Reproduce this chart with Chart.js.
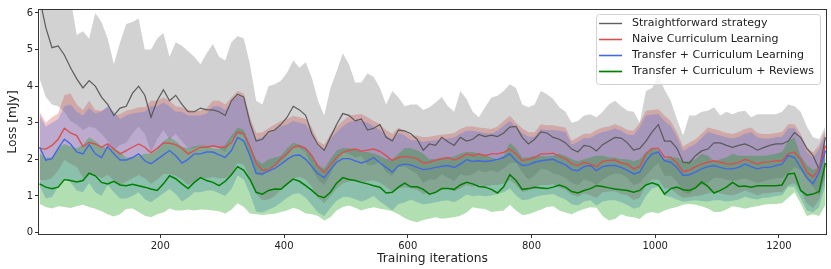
<!DOCTYPE html>
<html>
<head>
<meta charset="utf-8">
<script src="https://cdn.jsdelivr.net/npm/chart.js@4/dist/chart.umd.min.js"></script>
<style>
  html, body { margin: 0; padding: 0; background: #fff; }
</style>
</head>
<body>
<canvas id="chartCanvas" width="831" height="269"></canvas>
<script>
// iterations are sampled every 10 steps, starting at 5
const iterStart = 5;
const iterStep = 10;
const xTicks = [200, 400, 600, 800, 1000, 1200];
const yTicks = [0, 1, 2, 3, 4, 5, 6];

const seriesNames = [
  "Straightforward strategy",
  "Naive Curriculum Learning",
  "Transfer + Curriculum Learning",
  "Transfer + Curriculum + Reviews",
];

// Straightforward strategy
const straightMean = [
  6.4, 5.6, 5.05, 5.1, 4.85, 4.5, 4.2, 3.95, 4.15, 4.0,
  3.7, 3.5, 3.2, 3.4, 3.45, 3.8, 4.0, 3.75, 3.15, 3.6,
  3.9, 3.6, 3.75, 3.5, 3.3, 3.3, 3.4, 3.35, 3.35, 3.3,
  3.2, 3.6, 3.78, 3.7, 3.0, 2.5, 2.55, 2.75, 2.8, 2.95,
  3.15, 3.45, 3.35, 3.2, 2.7, 2.4, 2.25, 2.6, 2.95, 3.25,
  3.2, 3.05, 3.1, 2.8, 2.85, 2.95, 2.6, 2.5, 2.8, 2.78,
  2.7, 2.55, 2.25, 2.42, 2.38, 2.6, 2.48, 2.38, 2.6, 2.5,
  2.55, 2.68, 2.62, 2.66, 2.62, 2.72, 2.88, 2.9, 2.6, 2.42,
  2.55, 2.75, 2.72, 2.6, 2.55, 2.45, 2.28, 2.2, 2.38, 2.35,
  2.23, 2.4, 2.5, 2.6, 2.58, 2.45, 2.25, 2.3, 2.5, 2.75,
  2.95, 2.5, 2.5, 2.3, 1.92, 1.9, 2.1, 2.23, 2.28, 2.45,
  2.45, 2.38, 2.33, 2.38, 2.42, 2.35, 2.25, 2.32, 2.38, 2.42,
  2.42, 2.5, 2.73, 2.6, 2.3, 2.1, 1.72, 2.6,
];
const straightHigh = [
  6.5, 6.5, 6.5, 6.5, 6.5, 6.4, 5.4, 5.5, 5.3, 6.0,
  5.75, 5.3, 4.6, 5.2, 5.7, 5.75, 5.85, 5.0, 5.0, 5.3,
  5.45, 4.8, 5.2, 5.1, 4.95, 4.8, 4.6, 4.9, 5.15, 4.8,
  4.7, 5.2, 5.37, 5.3, 4.6, 3.6, 3.5, 4.0, 4.05, 4.15,
  4.37, 4.7, 4.5, 4.65, 4.23, 3.6, 3.2, 3.95, 4.4, 4.9,
  4.6, 4.1, 4.1, 4.35, 4.25, 3.95, 3.5, 3.87, 3.69, 3.45,
  3.5, 3.5, 3.35, 3.42, 3.55, 3.7, 3.45, 3.3, 3.87, 3.65,
  3.3, 3.15, 3.42, 3.69, 3.74, 3.87, 4.05, 3.95, 3.5, 3.42,
  3.5, 3.87, 3.78, 3.65, 3.42, 3.3, 3.0, 3.05, 3.2, 3.23,
  3.15, 3.3, 3.5, 3.6, 3.45, 3.33, 3.3, 3.0, 3.87, 3.95,
  4.3, 3.9, 3.6, 3.1, 2.65, 3.2, 3.2, 3.3, 3.33, 3.42,
  3.2, 3.3, 3.23, 3.3, 3.33, 3.15, 3.23, 3.23, 3.23, 3.23,
  3.3, 3.5, 3.45, 3.3, 2.9, 2.6, 2.55, 2.9,
];
const straightLow = [
  4.2, 3.7, 3.5, 3.45, 3.3, 3.05, 2.95, 2.8, 2.9, 2.85,
  2.7, 2.5, 2.25, 2.4, 2.45, 2.7, 2.9, 2.7, 2.2, 2.55,
  2.8, 2.55, 2.7, 2.5, 2.3, 2.3, 2.4, 2.35, 2.35, 2.3,
  2.2, 2.55, 2.7, 2.65, 2.05, 1.6, 1.55, 1.75, 1.8, 1.95,
  2.1, 2.4, 2.3, 2.2, 1.75, 1.45, 1.3, 1.6, 1.95, 2.2,
  2.15, 2.05, 2.1, 1.85, 1.85, 1.95, 1.65, 1.55, 1.8, 1.8,
  1.7, 1.6, 1.35, 1.45, 1.45, 1.6, 1.5, 1.4, 1.6, 1.55,
  1.6, 1.7, 1.65, 1.7, 1.65, 1.75, 1.9, 1.9, 1.65, 1.45,
  1.55, 1.75, 1.72, 1.62, 1.58, 1.5, 1.35, 1.3, 1.45, 1.4,
  1.3, 1.45, 1.55, 1.62, 1.6, 1.5, 1.3, 1.35, 1.55, 1.75,
  1.9, 1.55, 1.55, 1.4, 1.1, 1.05, 1.2, 1.3, 1.35, 1.5,
  1.5, 1.45, 1.4, 1.45, 1.48, 1.42, 1.35, 1.4, 1.45, 1.48,
  1.5, 1.6, 1.8, 1.7, 1.45, 1.25, 1.0, 1.6,
];

// Naive Curriculum Learning
const naiveMean = [
  2.3, 2.28, 2.38, 2.55, 2.85, 2.72, 2.65, 2.35, 2.46, 2.42,
  2.33, 2.42, 2.28, 2.15, 2.24, 2.33, 2.42, 2.33, 2.18, 2.3,
  2.45, 2.44, 2.4, 2.3, 2.15, 2.24, 2.33, 2.33, 2.37, 2.33,
  2.33, 2.45, 2.75, 2.7, 2.35, 1.9, 1.7, 1.72, 1.83, 2.02,
  2.15, 2.33, 2.37, 2.3, 2.1, 1.8, 1.64, 1.85, 2.05, 2.19,
  2.24, 2.28, 2.22, 2.25, 2.28, 2.22, 2.1, 1.97, 2.05, 2.08,
  2.06, 2.02, 1.9, 1.92, 1.98, 2.01, 2.05, 1.98, 2.05, 2.15,
  2.1, 2.15, 2.1, 2.15, 2.15, 2.19, 2.28, 2.15, 1.96, 2.0,
  2.05, 2.15, 2.15, 2.17, 2.08, 2.02, 1.88, 1.83, 1.92, 1.87,
  1.8, 1.95, 1.97, 1.98, 1.9, 1.87, 1.74, 1.8, 2.15, 2.3,
  2.3, 2.06, 2.06, 1.9, 1.67, 1.7, 1.8, 1.87, 1.92, 1.96,
  1.92, 1.88, 1.87, 1.92, 2.0, 1.94, 1.87, 1.92, 1.93, 1.96,
  1.96, 2.15, 2.2, 2.0, 1.65, 1.52, 1.75, 2.37,
];
const naiveHigh = [
  3.3, 3.0, 3.15, 3.25, 3.75, 3.8, 3.5, 3.35, 3.6, 3.35,
  3.33, 3.42, 3.2, 3.24, 3.33, 3.37, 3.42, 3.42, 3.6, 3.6,
  3.69, 3.6, 3.45, 3.42, 3.35, 3.33, 3.33, 3.4, 3.6, 3.6,
  3.5, 3.69, 3.87, 3.8, 3.15, 2.72, 2.74, 2.85, 2.95, 3.05,
  3.1, 3.19, 3.15, 3.1, 2.87, 2.5, 2.4, 2.69, 2.9, 3.05,
  3.19, 3.22, 3.24, 3.15, 3.05, 2.96, 2.8, 2.69, 2.87, 2.78,
  2.65, 2.65, 2.6, 2.62, 2.65, 2.67, 2.69, 2.72, 2.83, 2.9,
  2.9, 2.87, 2.85, 2.83, 2.9, 3.05, 3.19, 3.0, 2.85, 2.74,
  2.74, 2.96, 2.93, 2.93, 2.9, 2.87, 2.51, 2.6, 2.7, 2.7,
  2.8, 2.87, 2.9, 2.96, 2.9, 2.8, 2.78, 3.0, 3.33, 3.35,
  3.37, 3.2, 3.05, 2.75, 2.35, 2.45, 2.55, 2.7, 2.87, 2.83,
  2.78, 2.72, 2.69, 2.75, 2.83, 2.87, 2.72, 2.69, 2.69, 2.72,
  2.75, 2.96, 2.96, 2.7, 2.33, 2.19, 2.4, 2.8,
];
const naiveLow = [
  1.45, 1.42, 1.5, 1.7, 1.98, 1.88, 1.8, 1.5, 1.62, 1.57,
  1.48, 1.58, 1.43, 1.3, 1.4, 1.48, 1.57, 1.48, 1.33, 1.45,
  1.6, 1.6, 1.55, 1.45, 1.3, 1.4, 1.48, 1.48, 1.52, 1.48,
  1.48, 1.6, 1.9, 1.85, 1.5, 1.05, 0.88, 0.9, 1.0, 1.17,
  1.3, 1.48, 1.52, 1.45, 1.25, 0.95, 0.8, 1.0, 1.2, 1.34,
  1.4, 1.43, 1.37, 1.4, 1.43, 1.37, 1.25, 1.12, 1.2, 1.23,
  1.21, 1.17, 1.05, 1.07, 1.13, 1.16, 1.2, 1.13, 1.2, 1.3,
  1.25, 1.3, 1.25, 1.3, 1.3, 1.34, 1.43, 1.3, 1.11, 1.15,
  1.2, 1.3, 1.3, 1.32, 1.23, 1.17, 1.03, 0.98, 1.07, 1.02,
  0.95, 1.1, 1.12, 1.13, 1.05, 1.02, 0.89, 0.95, 1.3, 1.45,
  1.45, 1.21, 1.21, 1.05, 0.95, 0.97, 1.0, 1.02, 1.07, 1.11,
  1.07, 1.03, 1.02, 1.07, 1.15, 1.09, 1.02, 1.07, 1.08, 1.11,
  1.11, 1.3, 1.35, 1.15, 0.8, 0.67, 0.9, 1.52,
];

// Transfer + Curriculum Learning
const transferMean = [
  2.33, 1.98, 2.02, 2.3, 2.55, 2.42, 2.2, 2.15, 2.4, 2.15,
  2.05, 2.35, 2.15, 1.98, 1.98, 2.05, 2.15, 1.96, 1.88, 2.0,
  2.12, 2.24, 2.1, 1.9, 2.0, 2.15, 2.15, 2.2, 2.2, 2.12,
  2.05, 2.24, 2.6, 2.5, 2.1, 1.62, 1.6, 1.68, 1.75, 1.87,
  2.0, 2.1, 2.12, 2.0, 1.8, 1.6, 1.5, 1.72, 1.92, 2.02,
  2.02, 1.96, 1.9, 1.96, 2.05, 1.9, 1.78, 1.65, 1.83, 1.87,
  1.85, 1.78, 1.72, 1.74, 1.78, 1.81, 1.83, 1.78, 1.87, 1.99,
  1.94, 1.96, 1.94, 1.96, 2.0, 2.05, 2.15, 1.96, 1.83, 1.85,
  1.92, 1.96, 1.98, 2.0, 1.92, 1.85, 1.72, 1.69, 1.8, 1.83,
  1.69, 1.8, 1.83, 1.83, 1.78, 1.7, 1.6, 1.65, 1.95, 2.15,
  2.2, 1.96, 1.92, 1.78, 1.56, 1.58, 1.65, 1.74, 1.8, 1.83,
  1.78, 1.74, 1.74, 1.78, 1.87, 1.8, 1.74, 1.78, 1.78, 1.83,
  1.87, 2.1, 2.05, 1.78, 1.5, 1.33, 1.65, 2.24,
];
const transferHigh = [
  3.2, 2.9, 3.0, 3.1, 3.45, 3.5, 3.3, 3.2, 3.4, 3.25,
  3.3, 3.45, 3.3, 3.1, 3.2, 3.25, 3.28, 3.3, 3.45, 3.45,
  3.55, 3.45, 3.3, 3.3, 3.2, 3.2, 3.2, 3.25, 3.45, 3.45,
  3.35, 3.55, 3.75, 3.65, 3.0, 2.55, 2.6, 2.7, 2.8, 2.9,
  2.95, 3.05, 3.0, 2.95, 2.72, 2.35, 2.25, 2.55, 2.75, 2.9,
  3.02, 3.05, 3.05, 3.0, 2.9, 2.8, 2.65, 2.55, 2.72, 2.65,
  2.52, 2.52, 2.48, 2.5, 2.52, 2.55, 2.57, 2.6, 2.7, 2.78,
  2.78, 2.75, 2.72, 2.7, 2.78, 2.92, 3.05, 2.88, 2.72, 2.62,
  2.62, 2.82, 2.8, 2.8, 2.78, 2.75, 2.4, 2.48, 2.58, 2.58,
  2.68, 2.75, 2.78, 2.84, 2.78, 2.68, 2.66, 2.88, 3.2, 3.22,
  3.24, 3.05, 2.92, 2.62, 2.22, 2.33, 2.42, 2.58, 2.75, 2.7,
  2.65, 2.6, 2.57, 2.62, 2.7, 2.75, 2.6, 2.57, 2.57, 2.6,
  2.62, 2.85, 2.85, 2.58, 2.2, 2.05, 2.28, 2.7,
];
const transferLow = [
  1.28, 0.93, 0.97, 1.25, 1.5, 1.37, 1.15, 1.1, 1.35, 1.1,
  1.0, 1.3, 1.1, 0.93, 0.93, 1.0, 1.1, 0.91, 0.83, 0.95,
  1.07, 1.19, 1.05, 0.85, 0.95, 1.1, 1.1, 1.15, 1.15, 1.07,
  1.0, 1.19, 1.55, 1.45, 1.05, 0.57, 0.55, 0.63, 0.7, 0.82,
  0.95, 1.05, 1.07, 0.95, 0.75, 0.55, 0.45, 0.67, 0.87, 0.97,
  0.97, 0.91, 0.85, 0.91, 1.0, 0.85, 0.73, 0.6, 0.78, 0.82,
  0.9, 0.83, 0.77, 0.79, 0.83, 0.86, 0.88, 0.83, 0.92, 1.04,
  0.99, 1.01, 0.99, 1.01, 1.05, 1.1, 1.2, 1.01, 0.88, 0.9,
  0.97, 1.01, 1.03, 1.05, 0.97, 0.9, 0.77, 0.74, 0.85, 0.88,
  0.74, 0.85, 0.88, 0.88, 0.83, 0.75, 0.65, 0.7, 1.0, 1.2,
  1.25, 1.01, 0.97, 0.9, 0.84, 0.86, 0.88, 0.86, 0.85, 0.88,
  0.88, 0.85, 0.87, 0.9, 0.98, 0.93, 0.9, 0.95, 0.96, 1.0,
  1.02, 1.25, 1.25, 0.95, 0.6, 0.55, 0.7, 1.3,
];

// Transfer + Curriculum + Reviews
const reviewsMean = [
  1.33, 1.24, 1.2, 1.24, 1.45, 1.42, 1.38, 1.42, 1.62, 1.55,
  1.37, 1.33, 1.4, 1.3, 1.28, 1.32, 1.28, 1.24, 1.19, 1.15,
  1.33, 1.55, 1.47, 1.33, 1.2, 1.37, 1.5, 1.42, 1.37, 1.28,
  1.4, 1.58, 1.8, 1.7, 1.45, 1.1, 1.05, 1.15, 1.19, 1.18,
  1.33, 1.46, 1.4, 1.28, 1.15, 1.0, 0.95, 1.1, 1.35, 1.5,
  1.45, 1.42, 1.37, 1.33, 1.28, 1.24, 1.08, 1.1, 1.24, 1.35,
  1.25, 1.25, 1.18, 1.05, 1.1, 1.2, 1.2, 1.18, 1.3, 1.37,
  1.33, 1.26, 1.24, 1.18, 1.08, 1.25, 1.58, 1.42, 1.18, 1.2,
  1.24, 1.22, 1.2, 1.24, 1.3, 1.24, 1.12, 1.08, 1.15, 1.2,
  1.28, 1.26, 1.22, 1.19, 1.17, 1.15, 1.1, 1.15, 1.3, 1.36,
  1.3, 1.05, 1.2, 1.24, 1.17, 1.15, 1.22, 1.38, 1.26, 1.08,
  1.15, 1.24, 1.37, 1.26, 1.27, 1.24, 1.28, 1.28, 1.28, 1.28,
  1.3, 1.6, 1.62, 1.15, 1.02, 1.05, 1.12, 1.9,
];
const reviewsHigh = [
  2.15, 2.05, 2.05, 2.3, 2.42, 2.35, 2.3, 2.4, 2.6, 2.5,
  2.35, 2.3, 2.3, 2.2, 2.05, 2.05, 2.1, 2.15, 2.15, 2.25,
  2.5, 2.6, 2.5, 2.35, 2.3, 2.35, 2.4, 2.37, 2.3, 2.28,
  2.4, 2.65, 2.87, 2.8, 2.4, 2.0, 1.87, 2.0, 2.05, 2.1,
  2.3, 2.45, 2.4, 2.3, 2.1, 1.85, 1.75, 2.0, 2.25, 2.3,
  2.3, 2.28, 2.2, 2.2, 2.15, 2.1, 2.0, 2.0, 2.15, 2.3,
  2.3, 2.25, 2.15, 2.0, 2.0, 2.05, 2.05, 2.08, 2.15, 2.2,
  2.2, 2.15, 2.12, 2.05, 2.0, 2.1, 2.45, 2.3, 2.05, 2.05,
  2.1, 2.1, 2.08, 2.1, 2.15, 2.1, 2.0, 1.95, 2.0, 2.05,
  2.1, 2.1, 2.05, 2.05, 2.0, 2.0, 1.95, 2.0, 2.2, 2.3,
  2.25, 2.0, 2.05, 2.05, 1.95, 1.95, 2.0, 2.15, 2.1, 1.95,
  2.0, 2.05, 2.15, 2.1, 2.1, 2.1, 2.1, 2.1, 2.12, 2.15,
  2.2, 2.5, 2.6, 2.1, 1.85, 1.7, 1.8, 2.5,
];
const reviewsLow = [
  0.78, 0.7, 0.66, 0.72, 0.7, 0.67, 0.72, 0.76, 0.7, 0.65,
  0.58, 0.5, 0.44, 0.5, 0.64, 0.66, 0.56, 0.46, 0.42, 0.5,
  0.55, 0.66, 0.6, 0.6, 0.63, 0.6, 0.63, 0.62, 0.6, 0.58,
  0.52, 0.62, 0.8, 0.7, 0.52, 0.5, 0.48, 0.5, 0.51, 0.56,
  0.6, 0.68, 0.62, 0.52, 0.5, 0.45, 0.33, 0.42, 0.6, 0.7,
  0.74, 0.68, 0.6, 0.66, 0.69, 0.65, 0.62, 0.58, 0.5, 0.4,
  0.32, 0.28, 0.34, 0.38, 0.42, 0.38, 0.4, 0.42, 0.46, 0.55,
  0.69, 0.66, 0.64, 0.56, 0.58, 0.6, 0.76, 0.6, 0.48, 0.5,
  0.56, 0.62, 0.7, 0.72, 0.6, 0.55, 0.5, 0.58, 0.64, 0.69,
  0.68, 0.45, 0.33, 0.37, 0.5, 0.44, 0.42, 0.37, 0.52, 0.56,
  0.52, 0.6, 0.66, 0.7, 0.76, 0.78, 0.76, 0.72, 0.66, 0.56,
  0.56, 0.63, 0.72, 0.69, 0.65, 0.69, 0.72, 0.76, 0.78, 0.78,
  0.8, 0.95, 1.1, 0.8, 0.45, 0.5, 0.45, 0.75,
];

const iterations = straightMean.map((_, i) => iterStart + iterStep * i);
const pts = (arr) => arr.map((v, i) => ({ x: iterations[i], y: v }));

const FONT = "'DejaVu Sans', sans-serif";

// mean, high, low, line colour, fill colour, line width
const series = [
  [straightMean, straightHigh, straightLow, "rgba(85,85,85,0.95)", "rgba(105,105,105,0.3)", 1.2],
  [naiveMean, naiveHigh, naiveLow, "rgb(214,80,80)", "rgba(205,70,70,0.3)", 1.4],
  [transferMean, transferHigh, transferLow, "rgb(65,105,225)", "rgba(65,105,225,0.3)", 1.4],
  [reviewsMean, reviewsHigh, reviewsLow, "rgb(0,128,0)", "rgba(0,150,0,0.3)", 1.5],
];

const datasets = [];
series.forEach((s, k) => {
  const order = 10 - k; // first series drawn at the bottom
  const base = datasets.length;
  datasets.push({
    label: "",
    data: pts(s[1]),
    borderWidth: 0,
    pointRadius: 0,
    backgroundColor: s[4],
    fill: base + 1,
    order: order,
  });
  datasets.push({
    label: "",
    data: pts(s[2]),
    borderWidth: 0,
    pointRadius: 0,
    fill: false,
    order: order,
  });
  datasets.push({
    label: seriesNames[k],
    data: pts(s[0]),
    borderColor: s[3],
    borderWidth: s[5],
    pointRadius: 0,
    fill: false,
    order: order,
  });
});

// frame round the plot + matplotlib style legend in the upper right
const frameLegend = {
  id: "frameLegend",
  afterDraw(chart) {
    const { ctx, chartArea: a } = chart;
    ctx.save();
    ctx.strokeStyle = "#333";
    ctx.lineWidth = 1;
    ctx.strokeRect(Math.round(a.left) - 0.5, Math.round(a.top) - 0.5,
      Math.round(a.right - a.left) + 1, Math.round(a.bottom - a.top) + 1);

    ctx.font = "11px " + FONT;
    let tw = 0;
    seriesNames.forEach((n) => { tw = Math.max(tw, ctx.measureText(n).width); });
    const boxW = 36 + tw + 6;
    const boxH = 70;
    const bx = a.right - 6 - boxW;
    const by = a.top + 4;
    ctx.fillStyle = "rgba(255,255,255,0.8)";
    ctx.strokeStyle = "#d0d0d0";
    ctx.beginPath();
    if (ctx.roundRect) ctx.roundRect(bx + 0.5, by + 0.5, boxW, boxH, 3);
    else ctx.rect(bx + 0.5, by + 0.5, boxW, boxH);
    ctx.fill();
    ctx.stroke();

    ctx.textBaseline = "middle";
    series.forEach((s, k) => {
      const yy = by + 9.5 + k * 16;
      ctx.strokeStyle = s[3];
      ctx.lineWidth = s[5] + 0.2;
      ctx.beginPath();
      ctx.moveTo(bx + 3, yy);
      ctx.lineTo(bx + 26, yy);
      ctx.stroke();
      ctx.fillStyle = "#222";
      ctx.fillText(seriesNames[k], bx + 36, yy);
    });
    ctx.restore();
  },
};

const ctx = document.getElementById("chartCanvas").getContext("2d");
new Chart(ctx, {
  type: "line",
  data: { datasets: datasets },
  plugins: [frameLegend],
  options: {
    responsive: false,
    animation: false,
    devicePixelRatio: 1,
    layout: { padding: { left: 0, top: 10, right: 5, bottom: 0 } },
    elements: { line: { tension: 0 } },
    plugins: {
      legend: { display: false },
      tooltip: { enabled: false },
      filler: { drawTime: "beforeDatasetsDraw" },
    },
    scales: {
      x: {
        type: "linear",
        min: 4,
        max: 1276,
        afterBuildTicks: (sc) => { sc.ticks = xTicks.map((v) => ({ value: v })); },
        afterFit: (sc) => { sc.height = 35; },
        border: { display: false },
        grid: { drawOnChartArea: false, tickLength: 4, color: "#333" },
        ticks: {
          font: { family: FONT, size: 10 },
          color: "#222",
          padding: 2,
          maxRotation: 0,
          callback: (v) => String(v),
        },
        title: {
          display: true,
          text: "Training iterations",
          font: { family: FONT, size: 12.3 },
          color: "#222",
          padding: { top: 0, bottom: 3 },
        },
      },
      y: {
        min: -0.04,
        max: 6.08,
        afterBuildTicks: (sc) => { sc.ticks = yTicks.map((v) => ({ value: v })); },
        afterFit: (sc) => { sc.width = 39; },
        border: { display: false },
        grid: { drawOnChartArea: false, tickLength: 4, color: "#333" },
        ticks: { font: { family: FONT, size: 10 }, color: "#222", padding: 2 },
        title: {
          display: true,
          text: "Loss [mJy]",
          font: { family: FONT, size: 12.3 },
          color: "#222",
          padding: { top: 5, bottom: 0 },
        },
      },
    },
  },
});
</script>
</body>
</html>
